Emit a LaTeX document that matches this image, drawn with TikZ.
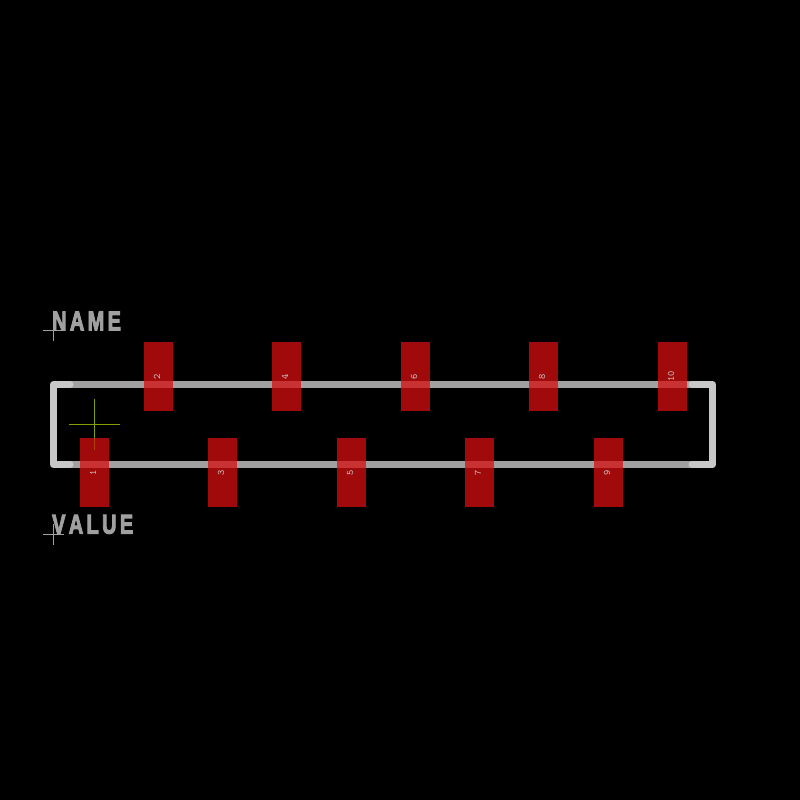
\documentclass[tikz,border=0pt]{standalone}
\usepackage{fontspec}
\newfontfamily\reffont[FakeBold=4]{Liberation Sans Bold}
\usepackage{xcolor}
\usetikzlibrary{positioning}
\definecolor{cpad}{RGB}{160,10,10}
\definecolor{cover}{RGB}{200,50,50}
\definecolor{cedge}{RGB}{160,160,160}
\definecolor{cline}{RGB}{200,200,200}
\definecolor{ccross}{RGB}{132,160,0}
\definecolor{ctrail}{RGB}{176,64,0}

\begin{document}
\begin{tikzpicture}[x=1pt,y=-1pt,
  padbox/.style={fill=cpad,inner sep=0pt,minimum width=29pt,minimum height=69pt},
  padover/.style={fill=cover,inner sep=0pt,minimum width=29pt,minimum height=7pt},
  padnum/.style={font=\fontsize{10}{10}\selectfont\ttfamily,text=cline,inner sep=0pt,rotate=90},
  refname/.style={font=\fontsize{27}{27}\selectfont\reffont,text=cedge,inner sep=0pt,anchor=south west,xscale=0.74},
  edge/.style={cedge,line width=7pt},
  corner/.style={cline,line width=7pt,line cap=round,line join=round},
  anchormark/.style={cedge,line width=0.8pt},
]
\fill[black] (0,0) rectangle (800,800);
% outline
\draw[edge] (60,384.5) -- (705,384.5);
\draw[edge] (60,464.5) -- (705,464.5);
\draw[corner] (70,384.5) -- (53.5,384.5) -- (53.5,464.5) -- (70,464.5);
\draw[corner] (692,384.5) -- (712.5,384.5) -- (712.5,464.5) -- (692,464.5);
% pads
\foreach \n/\x/\y/\e in {1/94.5/472.5/464.5,3/222.5/472.5/464.5,5/351.5/472.5/464.5,7/479.5/472.5/464.5,9/608.5/472.5/464.5,
  2/158.5/376.5/384.5,4/286.5/376.5/384.5,6/415.5/376.5/384.5,8/543.5/376.5/384.5,10/672.5/376.5/384.5}{
  \node[padbox] (pad\n) at (\x,\y) {};
  \node[padover] (over\n) at (\x,\e) {};
  \node[padnum] (num\n) at ([xshift=-1.5pt]pad\n.center) {\n};
}
% anchor marks
\draw[ccross,line width=0.9pt] (69,424.5) -- (120,424.5);
\draw[ccross,line width=0.9pt] (94.5,399) -- (94.5,438);
\draw[ctrail,line width=0.9pt] (94.5,438) -- (94.5,450);
\draw[anchormark] (43,330.5) -- (64,330.5);
\draw[anchormark] (53.5,320) -- (53.5,341);
\draw[anchormark] (43,534.5) -- (64,534.5);
\draw[anchormark] (53.5,524) -- (53.5,545);
% texts
\node[refname] (name) at (52,330.5) {N\,A\,M\,E};
\node[refname] (value) at (52,534) {V\,A\,L\,U\,E};
\end{tikzpicture}
\end{document}
